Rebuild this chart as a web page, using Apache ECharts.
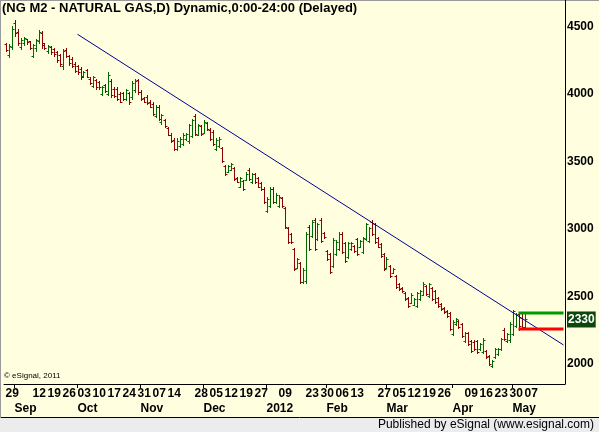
<!DOCTYPE html>
<html><head><meta charset="utf-8">
<script src="https://cdn.jsdelivr.net/npm/echarts@6/dist/echarts.min.js"></script>
<style>html,body{margin:0;padding:0;background:#ffffe0;}#c{width:599px;height:432px;}</style>
</head><body><div id="c"></div>
<script>
// ---- data ----
const startDate = '2011-08-29';
const holidays = ['2011-09-05','2011-11-24','2011-12-26','2012-01-02','2012-01-16','2012-02-20','2012-04-06'];
const dayTicks = ['2011-08-29','2011-09-12','2011-09-19','2011-09-26','2011-10-03','2011-10-10','2011-10-17','2011-10-24','2011-10-31','2011-11-07','2011-11-14','2011-11-28','2011-12-05','2011-12-12','2011-12-19','2011-12-27','2012-01-09','2012-01-23','2012-01-30','2012-02-06','2012-02-13','2012-02-27','2012-03-05','2012-03-12','2012-03-19','2012-03-26','2012-04-09','2012-04-16','2012-04-23','2012-04-30','2012-05-07'];
const monthTicks = ['2011-09-01','2011-10-03','2011-11-01','2011-12-01','2012-01-03','2012-02-01','2012-03-01','2012-04-02','2012-05-01'];
const monthNames = ['Sep','Oct','Nov','Dec','2012','Feb','Mar','Apr','May'];
const priceTicks = [2000,2330,2500,3000,3500,4000,4500];
const lastValue = 2330;

const opens = [4370,4290,4350,4530,4460,4350,4380,4405,4390,4285,
 4340,4395,4455,4375,4320,4350,4335,4315,4290,4210,
 4330,4285,4260,4225,4210,4185,4135,4180,4115,4060,
 4105,4090,4000,4070,4000,4100,4040,4035,4000,4005,
 3960,4005,3975,4030,4105,4015,3970,3980,3945,3930,
 3840,3905,3790,3810,3745,3700,3660,3595,3615,3630,
 3665,3650,3690,3840,3700,3760,3715,3785,3735,3720,
 3595,3615,3600,3465,3425,3440,3450,3380,3315,3355,
 3365,3440,3345,3405,3375,3340,3300,3135,3170,3300,
 3200,3170,3230,3155,3005,2960,2850,2715,2745,2610,
 2615,3015,2945,3070,2925,3065,2970,2835,2815,2725,
 2815,2850,2965,2895,2790,2850,2875,2925,2870,2830,
 2925,2910,3055,3035,2930,2890,2815,2715,2725,2675,
 2650,2595,2565,2525,2490,2455,2440,2430,2480,2515,
 2575,2505,2565,2540,2490,2445,2415,2395,2375,2225,
 2295,2320,2295,2170,2230,2170,2165,2170,2110,2090,
 2095,2060,1985,2050,2075,2110,2255,2170,2175,2225,
 2285,2370,2340,2275];
const closes = [4330,4355,4480,4450,4380,4400,4415,4385,4345,4360,
 4400,4460,4360,4345,4355,4310,4295,4250,4225,4320,
 4280,4230,4205,4170,4160,4125,4165,4130,4085,4125,
 4050,4050,4050,4020,4140,3990,3985,3965,3945,3960,
 4030,3940,4085,4100,4015,3960,3945,3935,3905,3850,
 3905,3815,3845,3760,3700,3650,3595,3655,3670,3695,
 3705,3770,3805,3705,3770,3705,3795,3740,3665,3630,
 3660,3670,3505,3405,3465,3480,3370,3350,3375,3295,
 3410,3370,3405,3345,3315,3295,3200,3225,3295,3200,
 3255,3240,3170,3015,2905,2905,2705,2775,2610,2700,
 2960,2855,3050,2855,3035,2910,2940,2775,2685,2920,
 2905,2965,2830,2765,2895,2895,2835,2815,2910,2930,
 3035,3005,2965,2905,2870,2800,2705,2780,2650,2705,
 2570,2555,2540,2480,2430,2515,2480,2525,2540,2595,
 2520,2590,2480,2460,2430,2405,2385,2355,2260,2315,
 2335,2275,2210,2230,2150,2100,2115,2090,2150,2180,
 2050,2000,2025,2110,2110,2185,2185,2220,2300,2390,
 2365,2280,2275,2330];
const lows = [4322,4271,4337,4433,4367,4337,4367,4374,4337,4271,
 4322,4381,4345,4337,4308,4300,4285,4234,4211,4189,
 4271,4219,4197,4160,4152,4115,4130,4123,4078,4049,
 4041,4041,3990,4012,3990,3975,3975,3953,3938,3953,
 3953,3930,3967,4012,4004,3953,3938,3930,3901,3842,
 3827,3805,3782,3753,3694,3642,3583,3583,3605,3620,
 3657,3634,3679,3694,3694,3694,3708,3731,3657,3620,
 3583,3605,3494,3398,3420,3435,3361,3346,3309,3287,
 3361,3361,3339,3339,3309,3287,3191,3124,3161,3191,
 3191,3161,3161,3006,2895,2895,2695,2710,2599,2599,
 2599,2843,2939,2843,2917,2902,2932,2769,2673,2717,
 2806,2843,2821,2754,2784,2843,2828,2806,2865,2821,
 2917,2902,2954,2895,2865,2791,2695,2710,2643,2673,
 2562,2547,2532,2473,2422,2451,2436,2422,2473,2510,
 2510,2496,2473,2451,2422,2399,2377,2348,2251,2214,
 2288,2266,2200,2163,2141,2089,2104,2081,2104,2081,
 2044,1993,1978,2044,2067,2104,2178,2163,2163,2214,
 2274,2255,2259,2259];
const highs = [4381,4374,4507,4552,4485,4418,4425,4411,4396,4374,
 4411,4478,4470,4381,4367,4359,4345,4322,4300,4337,
 4345,4292,4271,4234,4219,4197,4174,4189,4123,4137,
 4115,4100,4063,4078,4160,4115,4049,4049,4012,4012,
 4041,4012,4100,4115,4115,4027,3975,3990,3953,3945,
 3916,3916,3856,3819,3753,3708,3671,3671,3679,3708,
 3715,3782,3819,3856,3782,3768,3805,3790,3745,3731,
 3671,3679,3605,3472,3472,3487,3457,3383,3383,3361,
 3420,3450,3413,3413,3383,3346,3309,3235,3309,3309,
 3265,3250,3235,3161,3013,2969,2858,2784,2754,2710,
 2976,3028,3065,3080,3043,3080,2976,2843,2821,2932,
 2917,2976,2976,2902,2902,2902,2880,2932,2917,2939,
 3043,3013,3065,3043,2939,2895,2821,2791,2732,2710,
 2658,2599,2570,2532,2496,2525,2488,2532,2547,2606,
 2584,2599,2570,2547,2496,2451,2422,2399,2385,2325,
 2340,2325,2303,2237,2237,2178,2178,2178,2155,2192,
 2104,2067,2030,2119,2119,2192,2266,2229,2311,2399,
 2377,2378,2375,2372];

// trend line and last-bar level lines (category index, price)
const trendLine = [[24, 4443], [186, 2141]];
const highLevel = [[171, 2378], [186, 2378]];
const lowLevel = [[171, 2259], [186, 2259]];
const totalSlots = 187;

// ---- build ----
function tradingDays(start, n) {
  const out = []; const d = new Date(start + 'T00:00:00Z');
  while (out.length < n) {
    const w = d.getUTCDay(); const s = d.toISOString().slice(0, 10);
    if (w !== 0 && w !== 6 && holidays.indexOf(s) < 0) out.push(s);
    d.setUTCDate(d.getUTCDate() + 1);
  }
  return out;
}
const categories = tradingDays(startDate, totalSlots);
const ohlc = opens.map((o, i) => [i, o, closes[i], lows[i], highs[i]]);

const FONT = '"Liberation Sans", Arial, sans-serif';
const UP = '#006a00', DOWN = '#8c0000';

const chart = echarts.init(document.getElementById('c'), null, {renderer: 'canvas'});
chart.setOption({
  animation: false,
  backgroundColor: '#ffffe0',
  grid: {left: 4, right: 34, top: 0, bottom: 48, containLabel: false},
  xAxis: [{
    type: 'category', data: categories, boundaryGap: true, position: 'bottom',
    axisLine: {show: true, lineStyle: {color: '#000', width: 1}},
    axisTick: {show: true, alignWithLabel: true, length: 4, lineStyle: {color: '#000'},
      interval: (i, v) => monthTicks.indexOf(v) >= 0},
    axisLabel: {interval: (i, v) => dayTicks.indexOf(v) >= 0, formatter: v => v.slice(8),
      align: 'left', margin: 4, fontFamily: FONT, fontWeight: 'bold', fontSize: 12, color: '#000'},
    splitLine: {show: false}
  }, {
    type: 'category', data: categories, boundaryGap: true, position: 'bottom',
    axisLine: {show: false}, axisTick: {show: false},
    axisLabel: {interval: (i, v) => monthTicks.indexOf(v) >= 0,
      formatter: v => monthNames[monthTicks.indexOf(v)],
      align: 'left', margin: 19, fontFamily: FONT, fontWeight: 'bold', fontSize: 12, color: '#000'},
    splitLine: {show: false}
  }],
  yAxis: {
    type: 'value', position: 'right', min: 1852, max: 4697, scale: true,
    axisLine: {show: true, lineStyle: {color: '#000', width: 1}},
    axisTick: {show: false}, splitLine: {show: false},
    axisLabel: {customValues: priceTicks, margin: 2, fontFamily: FONT, fontWeight: 'bold', fontSize: 12, color: '#000',
      formatter: v => v === lastValue ? '{hl|' + v + '}' : String(v),
      rich: {hl: {backgroundColor: '#0c460c', color: '#ffffff', fontWeight: 'bold', fontSize: 12, fontFamily: FONT, padding: [2, 1, 2, 1]}}}
  },
  series: [{
    type: 'custom', xAxisIndex: 0, data: ohlc, encode: {x: 0, y: [1, 2, 3, 4]},
    renderItem: function (params, api) {
      const i = api.value(0);
      const o = api.coord([i, api.value(1)]);
      const c = api.coord([i, api.value(2)]);
      const l = api.coord([i, api.value(3)]);
      const h = api.coord([i, api.value(4)]);
      const x = Math.round(o[0]) + 0.5;
      const col = api.value(2) >= api.value(1) ? UP : DOWN;
      const st = {stroke: col, lineWidth: 1};
      return {type: 'group', children: [
        {type: 'line', shape: {x1: x, y1: Math.round(h[1]), x2: x, y2: Math.round(l[1]) + 1}, style: st},
        {type: 'line', shape: {x1: x - 2, y1: Math.round(o[1]) + 0.5, x2: x, y2: Math.round(o[1]) + 0.5}, style: st},
        {type: 'line', shape: {x1: x, y1: Math.round(c[1]) + 0.5, x2: x + 2, y2: Math.round(c[1]) + 0.5}, style: st}
      ]};
    }
  }, {
    type: 'line', data: trendLine, symbol: 'none', silent: true,
    lineStyle: {color: '#000090', width: 1}
  }, {
    type: 'line', data: highLevel, symbol: 'none', silent: true,
    lineStyle: {color: '#009a00', width: 3, cap: 'butt'}
  }, {
    type: 'line', data: lowLevel, symbol: 'none', silent: true,
    lineStyle: {color: '#ff0000', width: 3, cap: 'butt'}
  }],
  graphic: [
    {type: 'text', left: 2, top: 2, style: {text: '(NG M2 - NATURAL GAS,D) Dynamic,0:00-24:00 (Delayed)', font: 'bold 13px ' + FONT, fill: '#000'}},
    {type: 'text', left: 4, top: 372, style: {text: '\u00a9 eSignal, 2011', font: '8px ' + FONT, fill: '#000'}},
    {type: 'rect', left: 0, top: 418, shape: {width: 599, height: 14}, style: {fill: '#ececec'}},
    {type: 'line', shape: {x1: 0, y1: 417.5, x2: 599, y2: 417.5}, style: {stroke: '#000', lineWidth: 1}},
    {type: 'text', right: 5, top: 419, style: {text: 'Published by eSignal (www.esignal.com)', font: '12px ' + FONT, fill: '#000'}},
    {type: 'line', shape: {x1: 0, y1: 0.5, x2: 599, y2: 0.5}, style: {stroke: '#9a9a9a', lineWidth: 1}},
    {type: 'line', shape: {x1: 0.5, y1: 0, x2: 0.5, y2: 418}, style: {stroke: '#9a9a9a', lineWidth: 1}}
  ]
});
</script></body></html>
